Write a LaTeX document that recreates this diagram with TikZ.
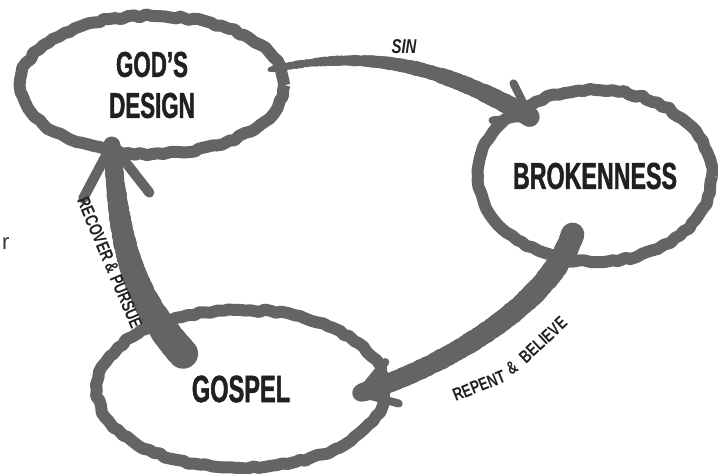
\documentclass[tikz,border=0pt]{standalone}
\usepackage{fontspec}
\setmainfont{Liberation Sans}
\newfontfamily\headfont[FakeStretch=0.62,FakeBold=1.2]{Liberation Sans}
\newfontfamily\labelfont[FakeStretch=0.75]{Liberation Sans}
\usetikzlibrary{shapes.geometric,decorations.pathmorphing,decorations.markings,calc}
\definecolor{brush}{HTML}{636466}
\definecolor{ink}{HTML}{231F20}
\begin{document}
\begin{tikzpicture}[x=1pt,y=1pt,
  ring/.style={ellipse, draw=brush, line width=12pt, line join=round, decorate,
    decoration={random steps, segment length=6pt, amplitude=1.5pt},
    inner sep=0pt, text=ink, align=center},
  head/.style={font=\headfont\bfseries\fontsize{36}{41}\selectfont},
  lbl/.style={text=ink, inner sep=0pt, font=\labelfont\bfseries\fontsize{18}{18}\selectfont},
  taper/.style 2 args={decorate, decoration={markings,
     mark=between positions 0 and 1 step 1.2pt with {%
       \pgfmathsetmacro\brushT{\pgfkeysvalueof{/pgf/decoration/mark info/distance from start}/\pgfdecoratedpathlength}%
       \pgfmathsetmacro\brushR{#1+(#2-#1)*\brushT+0.6*rand}%
       \fill[brush] (0,0) circle[radius=\brushR pt];}}},
  barbline/.style={draw=brush, line cap=round, line join=round},
]
\useasboundingbox (0,0) rectangle (718,474);
\pgfmathsetseed{3}

% nodes
\node[ring, head, minimum width=264pt, minimum height=138pt] (gd) at (152,389) {GOD’S\\DESIGN};
\node[ring, head, font=\headfont\bfseries\fontsize{37.5}{41}\selectfont, minimum width=234pt, minimum height=172pt] (br) at (595,298) {BROKENNESS};
\node[ring, head, font=\headfont\bfseries\fontsize{38}{44}\selectfont, minimum width=288pt, minimum height=158pt] (gs) at (241,85) {GOSPEL};

% connectors (tapered brush strokes)
\path[preaction={taper={3}{10}}]
  ($(gd.8)+(192:16)$) to[out=12,in=150] coordinate[pos=0.95] (sinpre) coordinate[pos=1] (sintip) ($(br.140)+(-30:20)$);
\path[preaction={taper={11.5}{9}}]
  ($(br.250)+(72:32)$) to[out=252,in=17,looseness=0.75] coordinate[pos=0.95] (rbpre) coordinate[pos=1] (rbtip) ($(gs.2)+(197:32)$);
\path[preaction={taper={15}{8}}]
  ($(gs.142)+(312:45)$) to[out=132,in=-85] coordinate[pos=0.95] (rppre) coordinate[pos=1] (rptip) ($(gd.240)+(85:12)$);

% arrowheads
\draw[barbline, line width=8pt] ($(sintip)!38pt!34:(sinpre)$) -- (sintip) -- ($(sintip)!38pt!-34:(sinpre)$);
\draw[barbline, line width=8pt] ($(rbtip)!40pt!33:(rbpre)$) -- (rbtip) -- ($(rbtip)!40pt!-33:(rbpre)$);
\draw[barbline, line width=10pt] ($(rptip)!61pt!33:(rppre)$) -- (rptip) -- ($(rptip)!61pt!-33:(rppre)$);

% labels
\node[lbl, font=\labelfont\bfseries\itshape\fontsize{20}{20}\selectfont] (sin) at (404,427) {SIN};
\node[lbl, rotate=-67] (rp) at (110,211) {RECOVER \& PURSUE};
\node[lbl, rotate=22] (rb1) at (479,88) {REPENT};
\node[lbl, rotate=31] (rb2) at (512,106) {\&};
\node[lbl, rotate=43] (rb3) at (543,134) {BELIEVE};

\node[anchor=base west, inner sep=0pt, text=black!80, font=\fontsize{22}{22}\selectfont] (r) at (2,224) {r};
\end{tikzpicture}
\end{document}
